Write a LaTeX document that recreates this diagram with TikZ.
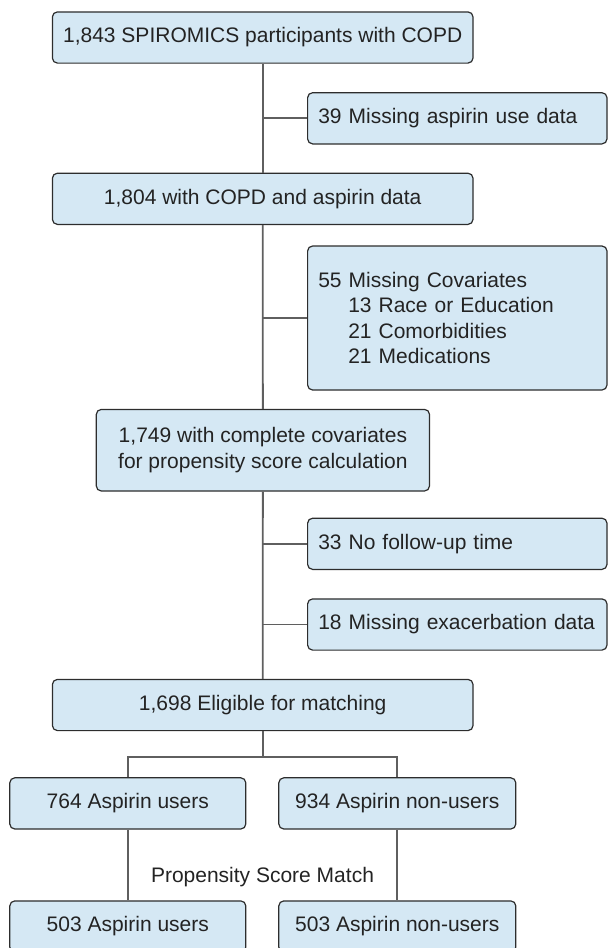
\documentclass[tikz,border=0pt]{standalone}
\usepackage{fontspec}
\setmainfont{Liberation Sans}
\usepackage{tikz}

\definecolor{boxfill}{RGB}{213,232,244}
\definecolor{boxline}{RGB}{45,45,45}
\definecolor{linkgray}{RGB}{95,95,95}
\definecolor{txt}{RGB}{35,35,35}

\tikzset{
  box/.style={draw=boxline, fill=boxfill, line width=0.6pt, rounded corners=2.5pt,
    inner sep=0pt, minimum height=25.6pt, text=txt,
    font=\fontsize{10.5}{12.8}\selectfont},
  sidebox/.style={box, minimum width=149.7pt, align=left, text width=139pt},
  link/.style={draw=linkgray, line width=0.9pt}
}

\begin{document}
\begin{tikzpicture}[x=0.5pt, y=-0.5pt]
    \useasboundingbox (0,0) rectangle (609,948);
    % Main column
    \node[box, minimum width=210.3pt] (start) at (262.7,37.5)
      {1,843 SPIROMICS participants with COPD};
    \node[box, minimum width=210.3pt] (aspdata) at (262.7,198.8)
      {1,804 with COPD and aspirin data};
    \node[box, minimum width=166.6pt, minimum height=40.8pt, align=center] (complete) at (262.9,450.2)
      {1,749 with complete covariates\\for propensity score calculation};
    \node[box, minimum width=210.3pt] (eligible) at (262.7,705)
      {1,698 Eligible for matching};
    % Exclusions
    \node[sidebox] (noasp) at (457.3,118.3) {39 Missing aspirin use data};
    \node[sidebox, minimum height=72pt] (nocov) at (457.3,318)
      {55 Missing Covariates\\
       \hspace{15pt}13 Race or Education\\
       \hspace{15pt}21 Comorbidities\\
       \hspace{15pt}21 Medications};
    \node[sidebox] (nofollow) at (457.3,543.8) {33 No follow-up time};
    \node[sidebox] (noexac) at (457.3,624.5) {18 Missing exacerbation data};
    % Groups
    \node[box, minimum width=118pt] (users) at (127.8,803.4) {764 Aspirin users};
    \node[box, minimum width=118.5pt] (nonusers) at (397.3,803.4) {934 Aspirin non-users};
    \node[box, minimum width=118pt] (musers) at (127.8,926.5) {503 Aspirin users};
    \node[box, minimum width=118.5pt] (mnonusers) at (397.3,926.5) {503 Aspirin non-users};
    \node[text=txt, font=\fontsize{10.5}{12.8}\selectfont] (psm) at (262.5,876.7)
      {Propensity Score Match};
    % Trunk
    \draw[link] (start) -- (aspdata);
    \draw[link] (aspdata) -- (complete);
    \draw[link] (complete) -- (eligible);
    \foreach \n in {noasp,nocov,nofollow,noexac}
      \draw[link] (start.south |- \n.west) -- (\n.west);
    % Split
    \path (eligible.south) ++(0,26) coordinate (split);
    \draw[link] (eligible) -- (split);
    \draw[link] (users.north) |- (split) -| (nonusers.north);
    \draw[link] (users) -- (musers);
    \draw[link] (nonusers) -- (mnonusers);
\end{tikzpicture}
\end{document}
